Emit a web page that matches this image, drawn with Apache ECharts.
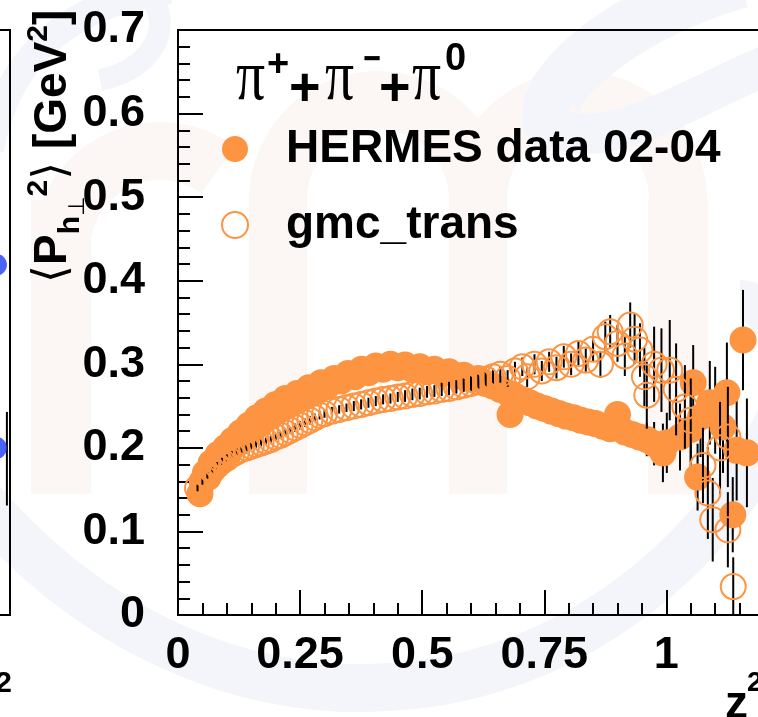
<!DOCTYPE html>
<html>
<head>
<meta charset="utf-8">
<title>Mean transverse momentum vs z</title>
<script src="https://cdn.jsdelivr.net/npm/echarts@6/dist/echarts.min.js"></script>
<style>
  html, body { margin: 0; padding: 0; background: #ffffff; }
  #chart { width: 758px; height: 717px; }
</style>
</head>
<body>
<div id="chart"></div>
<script>
// ---- measured points: HERMES data 02-04 (filled) ----
const hermesZ = [
  0.045, 0.050, 0.056, 0.062, 0.068, 0.075, 0.082, 0.090, 0.097, 0.105,
  0.112, 0.120, 0.128, 0.136, 0.145, 0.153, 0.162, 0.171, 0.180, 0.190,
  0.200, 0.210, 0.220, 0.232, 0.244, 0.256, 0.268, 0.280, 0.293, 0.306,
  0.320, 0.334, 0.348, 0.362, 0.376, 0.390, 0.405, 0.420, 0.435, 0.450,
  0.465, 0.480, 0.495, 0.510, 0.525, 0.540, 0.555, 0.570, 0.585, 0.600,
  0.615, 0.630, 0.645, 0.660, 0.675, 0.680, 0.690, 0.705, 0.720, 0.735,
  0.750, 0.765, 0.780, 0.795, 0.810, 0.825, 0.840, 0.855, 0.870, 0.885,
  0.900, 0.915, 0.930, 0.945, 0.960, 0.975, 0.993, 1.001, 1.028, 1.050,
  1.055, 1.064, 1.070, 1.089, 1.100, 1.116, 1.124, 1.136, 1.144, 1.157,
  1.165
];
const hermesVal = [
  0.145, 0.160, 0.170, 0.165, 0.182, 0.177, 0.192, 0.187, 0.200, 0.195,
  0.209, 0.204, 0.218, 0.213, 0.227, 0.222, 0.236, 0.230, 0.244, 0.238,
  0.252, 0.246, 0.259, 0.253, 0.265, 0.260, 0.272, 0.267, 0.278, 0.274,
  0.283, 0.280, 0.289, 0.285, 0.294, 0.290, 0.298, 0.294, 0.300, 0.296,
  0.299, 0.294, 0.297, 0.291, 0.294, 0.289, 0.291, 0.286, 0.287, 0.282,
  0.283, 0.277, 0.274, 0.270, 0.266, 0.240, 0.262, 0.258, 0.254, 0.250,
  0.247, 0.244, 0.241, 0.238, 0.236, 0.233, 0.231, 0.229, 0.226, 0.223,
  0.240, 0.219, 0.216, 0.213, 0.210, 0.205, 0.194, 0.206, 0.213, 0.222,
  0.278, 0.165, 0.237, 0.254, 0.245, 0.225, 0.266, 0.120, 0.197, 0.329,
  0.194
];
const hermesErr = [
  0.004, 0.004, 0.004, 0.004, 0.004, 0.004, 0.004, 0.004, 0.004, 0.004,
  0.004, 0.004, 0.004, 0.004, 0.004, 0.004, 0.004, 0.004, 0.004, 0.004,
  0.004, 0.004, 0.005, 0.005, 0.005, 0.005, 0.005, 0.005, 0.005, 0.005,
  0.005, 0.005, 0.005, 0.006, 0.006, 0.006, 0.006, 0.006, 0.006, 0.006,
  0.006, 0.007, 0.007, 0.007, 0.007, 0.007, 0.008, 0.008, 0.008, 0.008,
  0.008, 0.009, 0.009, 0.009, 0.010, 0.010, 0.010, 0.010, 0.011, 0.011,
  0.011, 0.011, 0.012, 0.012, 0.012, 0.012, 0.013, 0.013, 0.013, 0.013,
  0.014, 0.014, 0.014, 0.015, 0.020, 0.026, 0.035, 0.036, 0.040, 0.045,
  0.045, 0.040, 0.048, 0.050, 0.052, 0.055, 0.060, 0.045, 0.060, 0.060,
  0.065
];

// ---- simulated points: gmc_trans (open) ----
const gmcZ = [
  0.040, 0.050, 0.060, 0.070, 0.080, 0.090, 0.100, 0.110, 0.120, 0.130,
  0.140, 0.150, 0.160, 0.170, 0.180, 0.190, 0.200, 0.210, 0.220, 0.230,
  0.240, 0.250, 0.260, 0.270, 0.280, 0.290, 0.300, 0.315, 0.330, 0.345,
  0.360, 0.375, 0.390, 0.405, 0.420, 0.435, 0.450, 0.465, 0.480, 0.495,
  0.510, 0.525, 0.540, 0.555, 0.570, 0.585, 0.600, 0.615, 0.630, 0.645,
  0.660, 0.675, 0.690, 0.705, 0.715, 0.730, 0.745, 0.760, 0.775, 0.790,
  0.805, 0.820, 0.835, 0.850, 0.865, 0.875, 0.885, 0.900, 0.915, 0.926,
  0.935, 0.946, 0.955, 0.960, 0.975, 0.990, 1.007, 1.020, 1.038, 1.050,
  1.075, 1.085, 1.095, 1.110, 1.126, 1.126, 1.137
];
const gmcVal = [
  0.152, 0.160, 0.167, 0.173, 0.179, 0.184, 0.188, 0.192, 0.195, 0.198,
  0.200, 0.202, 0.204, 0.206, 0.208, 0.210, 0.213, 0.215, 0.218, 0.221,
  0.224, 0.227, 0.230, 0.233, 0.236, 0.239, 0.241, 0.244, 0.246, 0.248,
  0.250, 0.252, 0.254, 0.256, 0.258, 0.259, 0.261, 0.262, 0.264, 0.265,
  0.267, 0.268, 0.270, 0.271, 0.273, 0.275, 0.277, 0.279, 0.282, 0.285,
  0.288, 0.283, 0.292, 0.297, 0.285, 0.300, 0.292, 0.303, 0.296, 0.309,
  0.300, 0.313, 0.305, 0.318, 0.300, 0.333, 0.339, 0.325, 0.310, 0.347,
  0.330, 0.317, 0.285, 0.263, 0.300, 0.293, 0.293, 0.270, 0.249, 0.233,
  0.179, 0.146, 0.114, 0.200, 0.102, 0.213, 0.034
];
const gmcErr = [
  0.004, 0.004, 0.004, 0.004, 0.004, 0.004, 0.004, 0.004, 0.004, 0.004,
  0.004, 0.004, 0.004, 0.004, 0.004, 0.004, 0.004, 0.004, 0.004, 0.004,
  0.005, 0.005, 0.005, 0.005, 0.005, 0.005, 0.005, 0.005, 0.005, 0.005,
  0.006, 0.006, 0.006, 0.006, 0.006, 0.006, 0.006, 0.007, 0.007, 0.007,
  0.007, 0.007, 0.008, 0.008, 0.008, 0.008, 0.009, 0.009, 0.009, 0.010,
  0.010, 0.010, 0.011, 0.011, 0.012, 0.012, 0.012, 0.012, 0.013, 0.013,
  0.013, 0.014, 0.014, 0.015, 0.016, 0.018, 0.020, 0.022, 0.024, 0.027,
  0.030, 0.032, 0.035, 0.040, 0.045, 0.050, 0.060, 0.055, 0.050, 0.050,
  0.045, 0.055, 0.050, 0.055, 0.045, 0.060, 0.035
];

// ---- neighbouring panel (only its right edge is in view) ----
const leftZ = [1.241, 1.241];
const leftVal = [0.419, 0.200];
const leftBarZ = [1.287];
const leftBarVal = [0.187];
const leftBarErr = [0.056];

// ---- axis ticks ----
const xTickLabels = [0, 0.25, 0.5, 0.75, 1];
const yTickLabels = [0, 0.1, 0.2, 0.3, 0.4, 0.5, 0.6, 0.7];

const ORANGE = '#fd9442';
const SANS = '"Liberation Sans", Arial, Helvetica, sans-serif';

function zip3(a, b, c) { return a.map((v, i) => [v, b[i], c[i]]); }

function errorBars(params, api) {
  const x = api.value(0), y = api.value(1), e = api.value(2);
  const top = api.coord([x, y + e]);
  const bot = api.coord([x, y - e]);
  return {
    type: 'line',
    shape: { x1: top[0], y1: top[1], x2: bot[0], y2: bot[1] },
    style: { stroke: '#000', lineWidth: 2 }
  };
}

// width measurement for hand-set rich titles
const mctx = document.createElement('canvas').getContext('2d');
function textW(t, font) { mctx.font = font; return mctx.measureText(t).width; }

// y-axis title: <P_{h⊥}^2> [GeV^2], set along a rotated baseline
function yTitle() {
  const big = 46, small = 30;
  const pieces = [
    { t: '\u27E8', size: big, w: 'normal', fam: '"DejaVu Sans"', dy: 0 },
    { t: 'P', size: big, w: 'bold', fam: SANS, dy: 0 },
    { t: 'h', size: small, w: 'bold', fam: SANS, dy: 10 },
    { t: '\u22A5', size: small * 0.75, w: 'normal', fam: '"DejaVu Sans"', dy: 14 },
    { t: '2', size: small, w: 'bold', fam: SANS, dy: -22 },
    { t: '\u27E9', size: big, w: 'normal', fam: '"DejaVu Sans"', dy: 0 },
    { t: ' [GeV', size: big, w: 'bold', fam: SANS, dy: 0 },
    { t: '2', size: small, w: 'bold', fam: SANS, dy: -22 },
    { t: ']', size: big, w: 'bold', fam: SANS, dy: 0 }
  ];
  let x = 0;
  const children = [];
  pieces.forEach(p => {
    const font = p.w + ' ' + p.size + 'px ' + p.fam;
    children.push({
      type: 'text', x: x, y: p.dy,
      style: { text: p.t, font: font, fill: '#000', textAlign: 'left', textVerticalAlign: 'bottom' }
    });
    x += textW(p.t, font);
  });
  return { type: 'group', x: 76, y: 283, rotation: Math.PI / 2, children: children };
}

// legend header: pi+ + pi- + pi0
function header() {
  const piFont = '72px "Liberation Serif", "DejaVu Serif", serif';
  const plusFont = 'bold 54px ' + SANS;
  const supFont = 'bold 38px ' + SANS;
  const parts = [
    { t: '\u03C0', x: 236, y: 116, font: piFont, sx: 0.8 },
    { t: '+', x: 267, y: 85, font: supFont, sx: 1 },
    { t: '+', x: 289, y: 117, font: plusFont, sx: 1 },
    { t: '\u03C0', x: 325, y: 116, font: piFont, sx: 0.8 },
    { t: '\u2212', x: 363, y: 80, font: supFont, sx: 0.8 },
    { t: '+', x: 379, y: 117, font: plusFont, sx: 1 },
    { t: '\u03C0', x: 412, y: 116, font: piFont, sx: 0.8 },
    { t: '0', x: 445, y: 79, font: supFont, sx: 1 }
  ];
  return parts.map(p => ({
    type: 'text', x: p.x, y: p.y, z: 10, scaleX: p.sx,
    style: { text: p.t, font: p.font, fill: '#000', textAlign: 'left', textVerticalAlign: 'bottom' }
  }));
}

// faint logo watermark behind the plot
function watermark() {
  const pink = '#fcf7f5', blue = '#f4f5fa';
  const els = [
    { type: 'rect', shape: { x: 31, y: 200, width: 60, height: 294 }, style: { fill: pink } },
    { type: 'arc', shape: { cx: 160, cy: 250, r: 99, startAngle: Math.PI, endAngle: Math.PI * 1.7 }, style: { stroke: pink, lineWidth: 58, fill: 'none' } },
    { type: 'rect', shape: { x: 249, y: 200, width: 58, height: 294 }, style: { fill: pink } },
    { type: 'rect', shape: { x: 449, y: 200, width: 58, height: 294 }, style: { fill: pink } },
    { type: 'rect', shape: { x: 648, y: 200, width: 60, height: 294 }, style: { fill: pink } },
    { type: 'arc', shape: { cx: 378, cy: 200, r: 100, startAngle: Math.PI, endAngle: Math.PI * 2 }, style: { stroke: pink, lineWidth: 58, fill: 'none' } },
    { type: 'arc', shape: { cx: 578, cy: 200, r: 100, startAngle: Math.PI, endAngle: Math.PI * 2 }, style: { stroke: pink, lineWidth: 58, fill: 'none' } },
    { type: 'bezierCurve', shape: { x1: -20, y1: 500, cpx1: 230, cpy1: 790, cpx2: 620, cpy2: 730, x2: 780, y2: 420 }, style: { stroke: blue, lineWidth: 48, fill: 'none' } },
    { type: 'bezierCurve', shape: { x1: 780, y1: 420, cpx1: 800, cpy1: 330, cpx2: 760, cpy2: 300, x2: 740, y2: 300 }, style: { stroke: blue, lineWidth: 40, fill: 'none' } },
    { type: 'bezierCurve', shape: { x1: -10, y1: 150, cpx1: 10, cpy1: 40, cpx2: 90, cpy2: 0, x2: 170, y2: -10 }, style: { stroke: blue, lineWidth: 28, fill: 'none' } },
    { type: 'bezierCurve', shape: { x1: 150, y1: -5, cpx1: 175, cpy1: 30, cpx2: 150, cpy2: 70, x2: 100, y2: 80 }, style: { stroke: blue, lineWidth: 22, fill: 'none' } },
    { type: 'bezierCurve', shape: { x1: 740, y1: -20, cpx1: 600, cpy1: 20, cpx2: 520, cpy2: 110, x2: 560, y2: 130 }, style: { stroke: blue, lineWidth: 56, fill: 'none' } },
    { type: 'bezierCurve', shape: { x1: 560, y1: 130, cpx1: 620, cpy1: 150, cpx2: 700, cpy2: 90, x2: 780, y2: 60 }, style: { stroke: blue, lineWidth: 40, fill: 'none' } }
  ];
  return { type: 'group', z: -10, silent: true, children: els };
}

const chart = echarts.init(document.getElementById('chart'), null, { renderer: 'canvas' });

const axisLineStyle = { color: '#000', width: 2 };

const option = {
  backgroundColor: '#ffffff',
  animation: false,
  grid: [
    { left: 178, right: -6, top: 30, bottom: 102, outerBoundsMode: 'none', containLabel: false,
      show: true, borderColor: '#000', borderWidth: 2, backgroundColor: 'transparent', z: 1 },
    { left: -300, width: 310, top: 30, bottom: 102, outerBoundsMode: 'none', containLabel: false,
      show: true, borderColor: '#000', borderWidth: 2, backgroundColor: 'transparent', z: 1 }
  ],
  xAxis: [
    {
      gridIndex: 0, type: 'value', min: 0, max: 1.2, interval: 0.25,
      axisLine: { show: true, onZero: false, lineStyle: axisLineStyle },
      axisTick: { show: true, inside: true, length: 25, lineStyle: axisLineStyle },
      minorTick: { show: true, splitNumber: 5, length: 12, lineStyle: { color: '#000', width: 2 } },
      splitLine: { show: false },
      axisLabel: {
        margin: 18, color: '#000', fontFamily: SANS, fontWeight: 'bold', fontSize: 45,
        showMaxLabel: false,
        formatter: v => (xTickLabels.some(t => Math.abs(t - v) < 1e-9) ? String(v) : '')
      }
    },
    {
      gridIndex: 1, type: 'value', min: 0, max: 1.3,
      axisLine: { show: true, lineStyle: axisLineStyle },
      axisTick: { show: false }, axisLabel: { show: false }, splitLine: { show: false }
    }
  ],
  yAxis: [
    {
      gridIndex: 0, type: 'value', min: 0, max: 0.7, interval: 0.1,
      axisLine: { show: true, onZero: false, lineStyle: axisLineStyle },
      axisTick: { show: true, inside: true, length: 25, lineStyle: axisLineStyle },
      minorTick: { show: true, splitNumber: 5, length: 12, lineStyle: { color: '#000', width: 2 } },
      splitLine: { show: false },
      axisLabel: {
        margin: 33, color: '#000', fontFamily: SANS, fontWeight: 'bold', fontSize: 45,
        formatter: v => (yTickLabels.some(t => Math.abs(t - v) < 1e-9) ? String(Math.round(v * 10) / 10) : '')
      }
    },
    {
      gridIndex: 1, type: 'value', min: 0, max: 0.7,
      axisLine: { show: false }, axisTick: { show: false }, axisLabel: { show: false }, splitLine: { show: false }
    }
  ],
  legend: {
    orient: 'vertical', left: 216, top: 121, itemGap: 30,
    itemWidth: 72, itemHeight: 26,
    textStyle: { fontFamily: SANS, fontWeight: 'bold', fontSize: 46, color: '#000', lineHeight: 30, padding: [0, 0, 0, 10] },
    data: [
      { name: 'HERMES data 02-04', icon: 'circle', itemStyle: { color: ORANGE, borderWidth: 0 } },
      { name: 'gmc_trans', icon: 'circle', itemStyle: { color: 'rgba(0,0,0,0)', borderColor: ORANGE, borderWidth: 2 } }
    ]
  },
  graphic: [
    watermark(),
    yTitle(),
    ...header(),
    { type: 'text', x: 725, y: 728, style: { text: 'z', font: 'bold 46px ' + SANS, fill: '#000', textVerticalAlign: 'bottom' } },
    { type: 'text', x: 747, y: 697, style: { text: '2', font: 'bold 28px ' + SANS, fill: '#000', textVerticalAlign: 'bottom' } },
    { type: 'text', x: 12, y: 699, style: { text: '2', font: 'bold 30px ' + SANS, fill: '#000', textAlign: 'right', textVerticalAlign: 'bottom' } }
  ],
  series: [
    {
      name: 'HERMES errors', type: 'custom', xAxisIndex: 0, yAxisIndex: 0,
      renderItem: errorBars, data: zip3(hermesZ, hermesVal, hermesErr), clip: true, z: 3, silent: true
    },
    {
      name: 'HERMES data 02-04', type: 'scatter', xAxisIndex: 0, yAxisIndex: 0,
      data: hermesZ.map((z, i) => [z, hermesVal[i]]),
      symbol: 'circle', symbolSize: 27, clip: true,
      itemStyle: { color: ORANGE, opacity: 1 }, z: 4
    },
    {
      name: 'gmc errors', type: 'custom', xAxisIndex: 0, yAxisIndex: 0,
      renderItem: errorBars, data: zip3(gmcZ, gmcVal, gmcErr), clip: true, z: 5, silent: true
    },
    {
      name: 'gmc_trans', type: 'scatter', xAxisIndex: 0, yAxisIndex: 0,
      data: gmcZ.map((z, i) => [z, gmcVal[i]]),
      symbol: 'circle', symbolSize: 25, clip: true,
      itemStyle: { color: 'rgba(0,0,0,0)', borderColor: ORANGE, borderWidth: 2, opacity: 1 }, z: 6
    },
    {
      name: 'side errors', type: 'custom', xAxisIndex: 1, yAxisIndex: 1,
      renderItem: errorBars, data: zip3(leftBarZ, leftBarVal, leftBarErr), clip: false, z: 3, silent: true
    },
    {
      name: 'side', type: 'scatter', xAxisIndex: 1, yAxisIndex: 1,
      data: leftZ.map((z, i) => [z, leftVal[i]]),
      symbol: 'circle', symbolSize: 22, itemStyle: { color: '#1f3cf5' }, z: 4
    }
  ]
};

chart.setOption(option);
</script>
</body>
</html>
